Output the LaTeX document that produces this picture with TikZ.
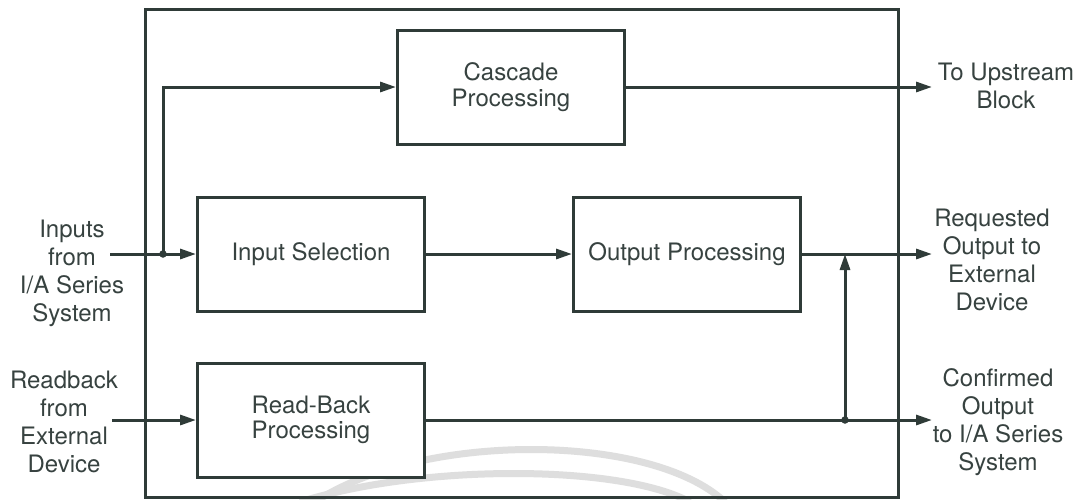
\documentclass[tikz,border=0pt]{standalone}
\usepackage{fontspec}
\setmainfont{TeX Gyre Heros}
\usetikzlibrary{arrows.meta}
\definecolor{ink}{HTML}{2F3B38}
\definecolor{txt}{HTML}{374240}
\definecolor{faintgray}{HTML}{DEDEDE}
\tikzset{
  wire/.style={draw=ink, line width=3pt},
  arrowline/.style={wire, -{Triangle[length=16pt,width=10pt]}},
  block/.style={draw=ink, line width=3pt, fill=white, minimum width=227pt,
    minimum height=114pt, align=center, text=txt, inner sep=0pt,
    font=\fontsize{24}{25.5}\selectfont},
  label/.style={align=center, text=txt, inner sep=0pt,
    font=\fontsize{24}{28}\selectfont},
  joint/.style={circle, fill=ink, inner sep=0pt, minimum size=7.5pt},
  arcband/.style={draw=faintgray, line width=7pt}
}
\begin{document}
\begin{tikzpicture}[x=1pt,y=-1pt]
  \useasboundingbox (0,0) rectangle (1086,499);
  \fill[white] (0,0) rectangle (1086,499);

  % faint arcs in the background
  \draw[arcband] (315,502) .. controls (420,432) and (650,432) .. (725,502);
  \draw[arcband] (300,502) .. controls (420,464) and (620,464) .. (690,502);

  % enclosing block
  \draw[wire] (145,9) rectangle (898,497);

  % processing blocks
  \node[block] (cascade) at (511,87) {Cascade\\Processing};
  \node[block] (insel) at (311,254) {Input Selection};
  \node[block] (outproc) at (687,254) {Output Processing};
  \node[block] (readback) at (311,420) {Read-Back\\Processing};

  % external labels
  \node[label] (lin) at (72,273) {Inputs\\from\\I/A Series\\System};
  \node[label] (lrb) at (64,422) {Readback\\from\\External\\Device};
  \node[label] (lup) at (1006,86) {To Upstream\\Block};
  \node[label] (lreq) at (992,260) {Requested\\Output to\\External\\Device};
  \node[label] (lconf) at (998,422) {Confirmed\\Output\\to I/A Series\\System};

  % connector ends
  \coordinate (inS) at (110,254);
  \coordinate (rbS) at (112,420);
  \coordinate (upE) at (932,87);
  \coordinate (reqE) at (932,254);
  \coordinate (confE) at (932,420);
  \node[joint] (j1) at (163,254) {};
  \node[joint] (j2) at (845,420) {};

  % connectors
  \draw[arrowline] (inS) -- (insel.west);
  \draw[arrowline] (j1.center) |- (cascade.west);
  \draw[arrowline] (rbS) -- (readback.west);
  \draw[arrowline] (cascade.east) -- (upE);
  \draw[arrowline] (insel.east) -- (outproc.west);
  \draw[arrowline] (outproc.east) -- (reqE);
  \draw[arrowline] (readback.east) -- (confE);
  \draw[arrowline] (j2.center) -- (j2 |- outproc.east);
\end{tikzpicture}
\end{document}
